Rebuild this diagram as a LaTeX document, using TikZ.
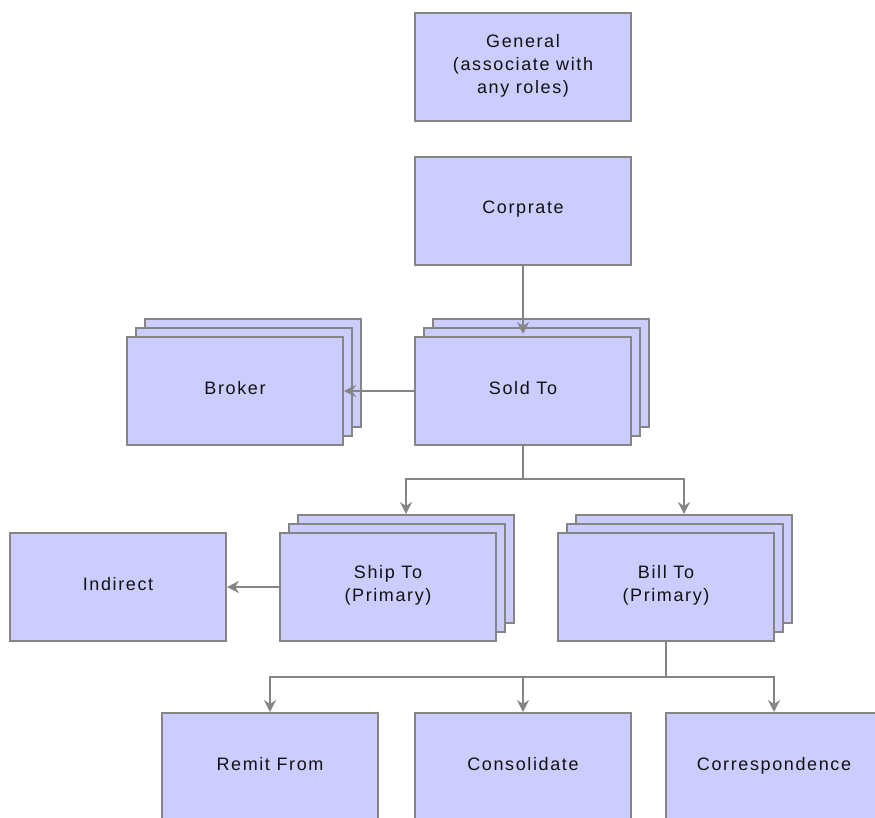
\documentclass[tikz,border=0pt]{standalone}
\usepackage{fontspec}
\setmainfont{Liberation Sans}[LetterSpace=9]
\usetikzlibrary{arrows.meta}
\definecolor{boxfill}{HTML}{CCCCFF}
\definecolor{boxline}{HTML}{858585}
\definecolor{txt}{HTML}{111111}
\newcommand{\bxs}{\rule[-7pt]{0pt}{13pt}}
\tikzset{
  box/.style={draw=boxline, line width=2pt, fill=boxfill, minimum width=216pt,
    minimum height=108pt, inner sep=0pt, align=center,
    font=\fontsize{18}{23}\selectfont, text=txt},
  layer/.style={draw=boxline, line width=2pt, fill=boxfill, minimum width=216pt,
    minimum height=108pt, inner sep=0pt},
  conn/.style={draw=boxline, line width=2pt, -{Stealth[length=12pt,width=12pt,inset=4pt]}},
  link/.style={draw=boxline, line width=2pt},
}
\begin{document}
\begin{tikzpicture}[x=1pt,y=-1pt]
\clip (0,0) rectangle (875,817);
% single boxes
\node[box] (general) at (523,67) {General\bxs\\(associate with\bxs\\any roles)\bxs};
\node[box] (corp) at (523,211) {Corprate\bxs};
% Sold To stack
\node[layer] (sold3) at (541,373) {};
\node[layer] (sold2) at (532,382) {};
\node[box] (sold) at (523,391) {Sold To\bxs};
% Broker stack
\node[layer] (broker3) at (253,373) {};
\node[layer] (broker2) at (244,382) {};
\node[box] (broker) at (235,391) {Broker\bxs};
% Ship To stack
\node[layer] (ship3) at (406,569) {};
\node[layer] (ship2) at (397,578) {};
\node[box] (ship) at (388,587) {Ship To\bxs\\(Primary)\bxs};
% Bill To stack
\node[layer] (bill3) at (684,569) {};
\node[layer] (bill2) at (675,578) {};
\node[box] (bill) at (666,587) {Bill To\bxs\\(Primary)\bxs};
\node[box] (indirect) at (118,587) {Indirect\bxs};
% bottom row
\node[box] (remit) at (270,767) {Remit From\bxs};
\node[box] (consol) at (523,767) {Consolidate\bxs};
\node[box] (corr) at (774,767) {Correspondence\bxs};
% connectors
\draw[conn] (corp.south) -- ([yshift=2pt]sold.north);
\draw[conn] (sold.west) -- (broker.east);
\coordinate (j1) at (523,479);
\draw[link] (sold.south) -- (j1);
\draw[conn] (j1) -| (ship3.north);
\draw[conn] (j1) -| (bill3.north);
\draw[conn] (ship.west) -- (indirect.east);
\coordinate (j2) at (666,677);
\draw[link] (bill.south) -- (j2);
\draw[conn] (j2) -| (remit.north);
\draw[conn] (j2) -- (consol.north |- j2) -- (consol.north);
\draw[conn] (j2) -| (corr.north);
\end{tikzpicture}
\end{document}
